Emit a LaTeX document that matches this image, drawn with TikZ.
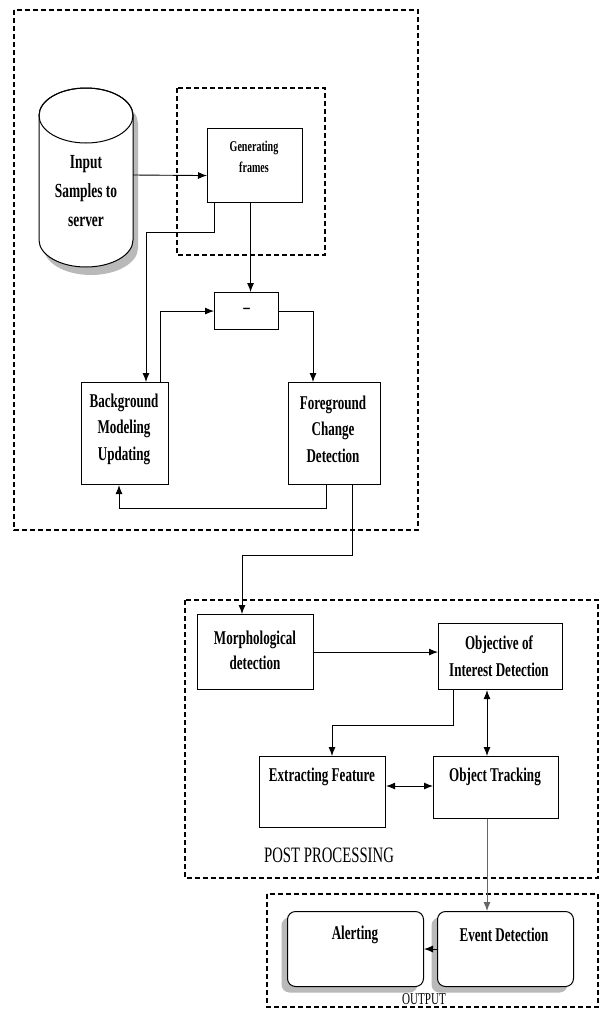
\documentclass[tikz,border=0pt]{standalone}
\usepackage{fontspec}
\setmainfont{Liberation Serif}[FakeStretch=0.67]
\usetikzlibrary{arrows.meta,shadows}
\begin{document}
\begin{tikzpicture}[x=1pt,y=-1pt,
  box/.style={draw,line width=1.1pt,fill=white,minimum width=#1,inner sep=0pt,anchor=north west},
  rbox/.style={draw,line width=1pt,fill=white,rounded corners=8pt,inner sep=0pt,anchor=north west,
     drop shadow={shadow xshift=-6pt,shadow yshift=-6pt,fill=gray!55,opacity=1}},
  grp/.style={draw,line width=1.2pt,dash pattern=on 5pt off 3pt},
  lab/.style={font=\fontsize{19.5}{26.5}\selectfont\bfseries,align=center,inner sep=0pt},
  arr/.style={line width=0.9pt,-{Latex[length=9pt,width=7pt]}},
  darr/.style={line width=0.9pt,{Latex[length=9pt,width=7pt]}-{Latex[length=9pt,width=7pt]}}]
\useasboundingbox (0,0) rectangle (601,1010);
% group frames
\draw[grp] (14,10) rectangle (418,530);
\draw[grp] (177,88) rectangle (325,255);
\draw[grp] (185,600) rectangle (598,878);
\draw[grp] (267,894) rectangle (598,1007);
% cylinder
\fill[gray!55] (44,123.5) -- (44,248) arc[start angle=180,end angle=0,x radius=47,y radius=27] -- (138,123.5) arc[start angle=0,end angle=-180,x radius=47,y radius=27.5] -- cycle;
\draw[line width=1pt,fill=white] (39,115.5) -- (39,240) arc[start angle=180,end angle=0,x radius=47,y radius=27] -- (133,115.5) arc[start angle=0,end angle=-180,x radius=47,y radius=27.5] -- cycle;
\draw[line width=1pt] (86,115.5) ellipse[x radius=47,y radius=27.5];
\node[lab,font=\fontsize{20}{29}\selectfont\bfseries,minimum width=94pt] (cyl) at (86,191) {Input\\Samples to\\server};
% boxes
\node[box=95pt,minimum height=74pt] (gen) at (207,128) {};
\node[lab,font=\fontsize{15}{21}\selectfont\bfseries] (gent) at (254,157) {Generating\\frames};
\node[box=64pt,minimum height=37pt,anchor=north west,font=\fontsize{19.5}{24}\selectfont\bfseries] (minus) at (214,292) {--};
\node[box=87pt,minimum height=102pt] (bg) at (81,382) {};
\node[lab] (bgt) at (124,429) {Background\\Modeling\\Updating};
\node[box=92pt,minimum height=102pt] (fg) at (288,382) {};
\node[lab] (fgt) at (333,429) {Foreground\\Change\\Detection};
\node[box=116pt,minimum height=75pt] (morph) at (197,614) {};
\node[lab,font=\fontsize{19.5}{25}\selectfont\bfseries] (morpht) at (255,650) {Morphological\\detection};
\node[box=124pt,minimum height=66pt] (obj) at (438,623) {};
\node[lab,font=\fontsize{19.5}{27}\selectfont\bfseries] (objt) at (499,656) {Objective of\\Interest Detection};
\node[box=126pt,minimum height=71pt] (ext) at (259,756) {};
\node[lab] (extt) at (322,777) {Extracting Feature};
\node[box=125pt,minimum height=62pt] (trk) at (433,756) {};
\node[lab] (trkt) at (495,777) {Object Tracking};
\node[font=\fontsize{22}{26}\selectfont,inner sep=0pt] (post) at (329,855) {POST PROCESSING};
\node[rbox,minimum width=136pt,minimum height=75pt] (alert) at (287,911) {};
\node[lab] (alertt) at (355,935) {Alerting};
\node[rbox,minimum width=136pt,minimum height=75pt] (event) at (437,911) {};
\node[lab] (eventt) at (504,935) {Event Detection};
\node[font=\fontsize{16.5}{20}\selectfont,inner sep=0pt] (outl) at (424,999) {OUTPUT};
% connectors
\draw[arr] (cyl.east |- 0,175) -- ([yshift=-10]gen.west);
\draw[arr] ([xshift=7]gen.south west) |- ([xshift=65]bg.north west |- 0,232) -- ([xshift=65]bg.north west);
\draw[arr] ([xshift=-4.5]gen.south) -- ([xshift=-4.5]gen.south |- minus.north);
\draw[arr] ([xshift=-9]bg.north east) |- (minus.west);
\draw[arr] (minus.east) -| ([xshift=25]fg.north west);
\draw[arr] ([xshift=38]fg.south west) -- ++(0,23) -| ([xshift=38]bg.south west);
\draw[arr] ([xshift=64]fg.south west) -- ++(0,70) -| ([xshift=45]morph.north west);
\draw[arr] (morph.east) -- (morph.east -| obj.west);
\draw[arr] ([xshift=15]obj.south west) -- ++(0,35) -| ([xshift=73]ext.north west);
\draw[darr] ([xshift=49]obj.south west) -- ([xshift=49]obj.south west |- trk.north);
\draw[darr] ([yshift=-30]ext.north east) -- ([yshift=-30]ext.north east -| trk.west);
\draw[arr,draw=gray!80!black] ([xshift=54]trk.south west) -- ([xshift=54]trk.south west |- event.north);
\draw[arr] (event.west) -- (alert.east);
\end{tikzpicture}
\end{document}
